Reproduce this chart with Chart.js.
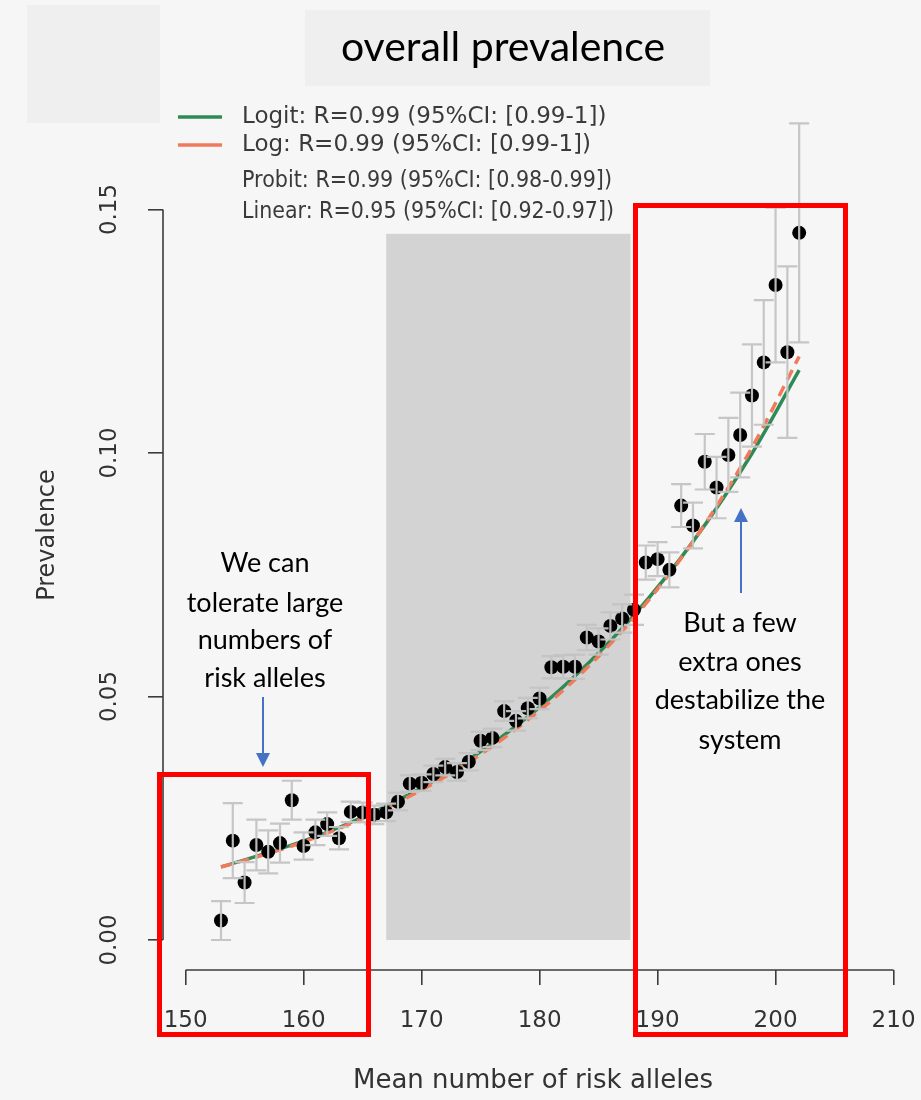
<!DOCTYPE html>
<html>
<head>
<meta charset="utf-8">
<script src="https://cdn.jsdelivr.net/npm/chart.js@4.4.0/dist/chart.umd.min.js"></script>
<style>
  html, body { margin: 0; padding: 0; background: #f6f6f6; }
  #wrap { width: 921px; height: 1100px; }
</style>
</head>
<body>
<div id="wrap"><canvas id="prevChart" width="921" height="1100"></canvas></div>
<script>
// mean number of risk alleles per bin and observed prevalence (+/- half CI)
const alleles = [153, 154, 155, 156, 157, 158, 159, 160, 161, 162,
                 163, 164, 165, 166, 167, 168, 169, 170, 171, 172,
                 173, 174, 175, 176, 177, 178, 179, 180, 181, 182,
                 183, 184, 185, 186, 187, 188, 189, 190, 191, 192,
                 193, 194, 195, 196, 197, 198, 199, 200, 201, 202];
const prevalence = [0.0040, 0.0204, 0.0118, 0.0195, 0.0181, 0.0199, 0.0287, 0.0193, 0.0221, 0.0238,
                    0.0209, 0.0263, 0.0262, 0.0257, 0.0262, 0.0284, 0.0321, 0.0323, 0.0341, 0.0355,
                    0.0345, 0.0366, 0.0409, 0.0415, 0.0470, 0.0450, 0.0476, 0.0496, 0.0560, 0.0561,
                    0.0561, 0.0621, 0.0613, 0.0645, 0.0660, 0.0678, 0.0775, 0.0782, 0.0760, 0.0892,
                    0.0851, 0.0982, 0.0929, 0.0996, 0.1037, 0.1118, 0.1186, 0.1345, 0.1207, 0.1452];
const prevErr = [0.0040, 0.0077, 0.0042, 0.0052, 0.0044, 0.0040, 0.0040, 0.0028, 0.0026, 0.0024,
                 0.0023, 0.0021, 0.0020, 0.0019, 0.0018, 0.0018, 0.0017, 0.0017, 0.0017, 0.0017,
                 0.0018, 0.0018, 0.0019, 0.0019, 0.0020, 0.0020, 0.0021, 0.0022, 0.0023, 0.0024,
                 0.0025, 0.0026, 0.0027, 0.0028, 0.0029, 0.0031, 0.0035, 0.0035, 0.0036, 0.0044,
                 0.0047, 0.0057, 0.0063, 0.0076, 0.0087, 0.0105, 0.0128, 0.0159, 0.0176, 0.0225];

// fitted curves
const fitX = [153, 158, 163, 168, 173, 178, 183, 188, 193, 198, 202];
const logitFit = [0.0150, 0.0187, 0.0231, 0.0287, 0.0355, 0.0439, 0.0542, 0.0667, 0.0818, 0.0999, 0.1170];
const logFit = [0.0150, 0.0185, 0.0229, 0.0283, 0.0350, 0.0433, 0.0535, 0.0662, 0.0818, 0.1011, 0.1198];

const xTicks = [150, 160, 170, 180, 190, 200, 210];
const yTicks = [0, 0.05, 0.10, 0.15];
const yTickLabels = ['0.00', '0.05', '0.10', '0.15'];

const legendLabels = [
  'Logit: R=0.99 (95%CI: [0.99-1])',
  'Log: R=0.99 (95%CI: [0.99-1])',
  'Probit: R=0.99 (95%CI: [0.98-0.99])',
  'Linear: R=0.95 (95%CI: [0.92-0.97])'
];

// grey band behind the middle of the distribution
const shadeFrom = 167, shadeTo = 187.7, shadeTop = 0.145;

const GREEN = '#2e8b57';
const ORANGE = '#f07a5a';
const AXIS = '#3c3c3c';
const RFONT = 'DejaVu Sans';
const CALLOUT = 'Lato, Carlito, "Open Sans", sans-serif';

const pts = alleles.map((a, i) => ({ x: a, y: prevalence[i] }));

const decorations = {
  id: 'decorations',
  beforeDraw(chart) {
    const ctx = chart.ctx;
    ctx.save();
    ctx.fillStyle = '#f6f6f6';
    ctx.fillRect(0, 0, chart.width, chart.height);
    ctx.fillStyle = '#efefef';
    ctx.fillRect(27, 5, 133, 118);
    ctx.fillRect(305, 10, 405, 76);
    ctx.restore();
  },
  beforeDatasetsDraw(chart) {
    const { ctx, scales: { x, y } } = chart;
    const x0 = x.getPixelForValue(shadeFrom), x1 = x.getPixelForValue(shadeTo);
    const y0 = y.getPixelForValue(shadeTop), y1 = y.getPixelForValue(0);
    ctx.save();
    ctx.fillStyle = '#d3d3d3';
    ctx.fillRect(x0, y0, x1 - x0, y1 - y0);
    ctx.restore();
  },
  afterDatasetsDraw(chart) {
    // error bars go on top of the dots
    const { ctx, scales: { x, y } } = chart;
    ctx.save();
    ctx.strokeStyle = 'rgba(195,195,195,0.95)';
    ctx.lineWidth = 2.2;
    alleles.forEach((a, i) => {
      const px = x.getPixelForValue(a);
      const top = y.getPixelForValue(prevalence[i] + prevErr[i]);
      const bot = y.getPixelForValue(prevalence[i] - prevErr[i]);
      ctx.beginPath();
      ctx.moveTo(px, top); ctx.lineTo(px, bot);
      ctx.moveTo(px - 10, top); ctx.lineTo(px + 10, top);
      ctx.moveTo(px - 10, bot); ctx.lineTo(px + 10, bot);
      ctx.stroke();
    });
    ctx.restore();
  },
  afterDraw(chart) {
    const { ctx, scales: { x, y }, chartArea } = chart;
    ctx.save();

    // axis lines (R style, only over the tick range)
    ctx.strokeStyle = AXIS;
    ctx.lineWidth = 1.6;
    ctx.beginPath();
    ctx.moveTo(x.getPixelForValue(xTicks[0]), chartArea.bottom);
    ctx.lineTo(x.getPixelForValue(xTicks[xTicks.length - 1]), chartArea.bottom);
    ctx.moveTo(chartArea.left, y.getPixelForValue(yTicks[0]));
    ctx.lineTo(chartArea.left, y.getPixelForValue(yTicks[yTicks.length - 1]));
    ctx.stroke();

    // rotated y tick labels
    ctx.fillStyle = '#333';
    ctx.font = '23px ' + RFONT;
    ctx.textAlign = 'center';
    ctx.textBaseline = 'middle';
    yTicks.forEach((v, i) => {
      ctx.save();
      ctx.translate(110, y.getPixelForValue(v));
      ctx.rotate(-Math.PI / 2);
      ctx.fillText(yTickLabels[i], 0, 0);
      ctx.restore();
    });

    // legend
    const legendY = [117, 145, 181, 212];
    const legendW = [373, 356, 370, 372];
    ctx.lineWidth = 3.5;
    ctx.strokeStyle = GREEN;
    ctx.beginPath(); ctx.moveTo(178, legendY[0]); ctx.lineTo(222, legendY[0]); ctx.stroke();
    ctx.strokeStyle = ORANGE;
    ctx.beginPath(); ctx.moveTo(178, legendY[1]); ctx.lineTo(222, legendY[1]); ctx.stroke();
    ctx.fillStyle = '#3a3a3a';
    ctx.font = '23px ' + RFONT;
    ctx.textAlign = 'left';
    legendLabels.forEach((t, i) => ctx.fillText(t, 242, legendY[i], legendW[i]));

    // heading
    ctx.fillStyle = '#000';
    ctx.font = '41px ' + CALLOUT;
    ctx.textAlign = 'center';
    ctx.fillText('overall prevalence', 503, 48);

    // highlight boxes
    ctx.strokeStyle = '#ff0000';
    ctx.lineWidth = 5;
    ctx.strokeRect(159.5, 774.5, 209, 260);
    ctx.strokeRect(635.5, 205.5, 210, 829);

    // callout text
    ctx.font = '27px ' + CALLOUT;
    ctx.fillStyle = '#000';
    ['We can', 'tolerate large', 'numbers of', 'risk alleles']
      .forEach((t, i) => ctx.fillText(t, 265, [563, 603, 640, 678][i]));
    ['But a few', 'extra ones', 'destabilize the', 'system']
      .forEach((t, i) => ctx.fillText(t, 740, [623, 662, 700, 740][i]));

    // arrows
    const arrow = (ax, yFrom, yTip) => {
      const dir = yTip > yFrom ? 1 : -1;
      const base = yTip - dir * 14;
      ctx.strokeStyle = '#4472c4';
      ctx.fillStyle = '#4472c4';
      ctx.lineWidth = 2;
      ctx.beginPath(); ctx.moveTo(ax, yFrom); ctx.lineTo(ax, base); ctx.stroke();
      ctx.beginPath();
      ctx.moveTo(ax, yTip); ctx.lineTo(ax - 7, base); ctx.lineTo(ax + 7, base);
      ctx.closePath(); ctx.fill();
    };
    arrow(263, 697, 767);
    arrow(741, 593, 508);

    ctx.restore();
  }
};

new Chart(document.getElementById('prevChart'), {
  type: 'scatter',
  data: {
    datasets: [
      {
        label: 'Observed',
        data: pts,
        pointRadius: 7,
        pointHoverRadius: 7,
        backgroundColor: '#000',
        borderWidth: 0,
        order: 0
      },
      {
        type: 'line',
        label: 'Log',
        data: fitX.map((v, i) => ({ x: v, y: logFit[i] })),
        borderColor: ORANGE,
        borderWidth: 3.5,
        borderDash: [11, 7],
        pointRadius: 0,
        cubicInterpolationMode: 'monotone',
        fill: false,
        order: 1
      },
      {
        type: 'line',
        label: 'Logit',
        data: fitX.map((v, i) => ({ x: v, y: logitFit[i] })),
        borderColor: GREEN,
        borderWidth: 3.5,
        pointRadius: 0,
        cubicInterpolationMode: 'monotone',
        fill: false,
        order: 2
      }
    ]
  },
  options: {
    responsive: false,
    animation: false,
    devicePixelRatio: 1,
    layout: { padding: { left: 0, right: 18, top: 100, bottom: 0 } },
    plugins: { legend: { display: false }, tooltip: { enabled: false } },
    scales: {
      x: {
        type: 'linear',
        min: 148.085,
        max: 210.8,
        afterBuildTicks: s => { s.ticks = xTicks.map(v => ({ value: v })); },
        afterFit: s => { s.height = 130; s.paddingLeft = 0; s.paddingRight = 0; },
        grid: { drawOnChartArea: false, drawTicks: true, tickLength: 15, color: AXIS, lineWidth: 1.6 },
        border: { display: false },
        ticks: { font: { family: RFONT, size: 23 }, color: '#333', padding: 22, maxRotation: 0, autoSkip: false },
        title: {
          display: true,
          text: 'Mean number of risk alleles',
          font: { family: RFONT, size: 26 },
          color: '#333',
          padding: { top: 0, bottom: 3 }
        }
      },
      y: {
        type: 'linear',
        min: -0.00616,
        max: 0.17248,
        afterBuildTicks: s => { s.ticks = yTicks.map(v => ({ value: v })); },
        afterFit: s => { s.width = 163; s.paddingTop = 0; s.paddingBottom = 0; },
        grid: { drawOnChartArea: false, drawTicks: true, tickLength: 15, color: AXIS, lineWidth: 1.6 },
        border: { display: false },
        ticks: { display: false },
        title: {
          display: true,
          text: 'Prevalence',
          font: { family: RFONT, size: 24 },
          color: '#333',
          padding: { top: 33, bottom: 0 }
        }
      }
    }
  },
  plugins: [decorations]
});
</script>
</body>
</html>
